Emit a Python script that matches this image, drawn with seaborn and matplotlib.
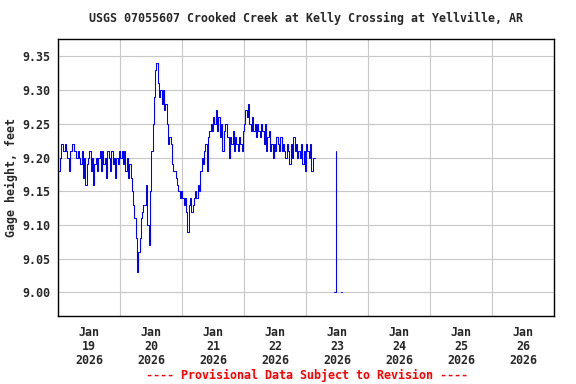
import pandas as pd
import matplotlib
matplotlib.use("Agg")
import matplotlib.pyplot as plt
import matplotlib.dates as mdates
import matplotlib.ticker as mticker
import seaborn as sns

# ================= DATA =================
# gage height (feet), half-hourly from Jan 19 2026 00:00
START = "2026-01-19 00:00"
day19 = [9.18, 9.20, 9.22, 9.22, 9.21, 9.22, 9.21, 9.20, 9.18, 9.21, 9.21, 9.22,
         9.21, 9.21, 9.20, 9.21, 9.20, 9.19, 9.21, 9.17, 9.20, 9.16, 9.19, 9.20,
         9.21, 9.18, 9.20, 9.16, 9.19, 9.20, 9.18, 9.20, 9.21, 9.18, 9.21, 9.19,
         9.20, 9.17, 9.21, 9.20, 9.18, 9.21, 9.19, 9.20, 9.17, 9.20, 9.19, 9.21]
day20 = [9.20, 9.21, 9.19, 9.21, 9.18, 9.20, 9.17, 9.19, 9.17, 9.15, 9.13, 9.11,
         9.08, 9.03, 9.06, 9.08, 9.11, 9.12, 9.13, 9.13, 9.16, 9.10, 9.07, 9.15,
         9.21, 9.25, 9.29, 9.33, 9.34, 9.31, 9.29, 9.30, 9.28, 9.30, 9.27, 9.28,
         9.25, 9.22, 9.23, 9.22, 9.19, 9.18, 9.18, 9.17, 9.16, 9.15, 9.14, 9.15]
day21 = [9.14, 9.13, 9.14, 9.12, 9.09, 9.13, 9.14, 9.12, 9.13, 9.14, 9.15, 9.14,
         9.16, 9.15, 9.18, 9.20, 9.19, 9.21, 9.22, 9.18, 9.23, 9.24, 9.25, 9.24,
         9.26, 9.25, 9.27, 9.24, 9.26, 9.23, 9.25, 9.21, 9.24, 9.25, 9.25, 9.23,
         9.20, 9.23, 9.22, 9.24, 9.21, 9.23, 9.22, 9.21, 9.23, 9.22, 9.21, 9.24]
day22 = [9.25, 9.27, 9.26, 9.28, 9.25, 9.24, 9.26, 9.24, 9.25, 9.23, 9.25, 9.24,
         9.23, 9.25, 9.24, 9.22, 9.25, 9.21, 9.23, 9.24, 9.21, 9.22, 9.20, 9.22,
         9.21, 9.23, 9.22, 9.21, 9.23, 9.21, 9.22, 9.21, 9.20, 9.22, 9.21, 9.19,
         9.22, 9.20, 9.23, 9.21, 9.22, 9.20, 9.21, 9.20, 9.22, 9.19, 9.21, 9.18]
day23 = [9.22, 9.21, 9.20, 9.22, 9.18, 9.20, 9.20, 9.20]

# sensor glitch on Jan 23
glitch_times = ["2026-01-23 10:45", "2026-01-23 11:30", "2026-01-23 11:30"]
glitch_vals = [9.00, 9.00, 9.21]
dot_times = ["2026-01-23 13:30", "2026-01-23 14:00"]
dot_vals = [9.00, 9.00]

TITLE = "USGS 07055607 Crooked Creek at Kelly Crossing at Yellville, AR"
YLABEL = "Gage height, feet"
FOOTER = "---- Provisional Data Subject to Revision ----"

# ================= BUILD FRAMES =================
vals = day19 + day20 + day21 + day22 + day23
df = pd.DataFrame({
    "time": pd.date_range(START, periods=len(vals), freq="30min"),
    "height": vals,
})
glitch = pd.DataFrame({"time": pd.to_datetime(glitch_times), "height": glitch_vals})
dot = pd.DataFrame({"time": pd.to_datetime(dot_times), "height": dot_vals})

# ================= PLOT =================
sns.set_style("white")
plt.rcParams["font.family"] = ["DejaVu Sans Mono"]
plt.rcParams["font.weight"] = "bold"
FS = 8.4

fig = plt.figure(figsize=(5.76, 3.84), dpi=100)
ax = fig.add_axes([0.1012, 0.1771, 0.8606, 0.7206])

for frame, style in [(df, "steps-post"), (glitch, "default"), (dot, "default")]:
    sns.lineplot(data=frame, x="time", y="height", ax=ax, color="blue", lw=0.75,
                 estimator=None, sort=False, drawstyle=style)

ax.set_xlim(pd.Timestamp("2026-01-19"), pd.Timestamp("2026-01-27"))
ax.set_ylim(8.965, 9.3755)

# gridlines at midnight, date labels at noon
ax.xaxis.set_major_locator(mdates.DayLocator())
ax.xaxis.set_major_formatter(mticker.NullFormatter())
ax.xaxis.set_minor_locator(mdates.HourLocator(byhour=[12]))
ax.xaxis.set_minor_formatter(mdates.DateFormatter("%b\n%d\n%Y"))
ax.yaxis.set_major_locator(mticker.MultipleLocator(0.05))
ax.yaxis.set_major_formatter(mticker.FormatStrFormatter("%.2f"))

ax.grid(which="major", axis="both", color="#c8c8c8", lw=0.8)
ax.tick_params(which="both", length=0)
ax.tick_params(axis="y", pad=5.5, labelsize=FS)
ax.tick_params(axis="x", which="minor", pad=7, labelsize=FS)
for lab in ax.get_xticklabels(minor=True):
    lab.set_linespacing(1.1)

for s in ax.spines.values():
    s.set_color("black")
    s.set_linewidth(1.0)

ax.set_xlabel("")
ax.set_ylabel(YLABEL, fontsize=FS, fontweight="bold", labelpad=3)
fig.text(0.532, 0.951, TITLE, ha="center", va="center", fontsize=FS, fontweight="bold")
fig.text(0.533, 0.023, FOOTER, ha="center", va="center", fontsize=FS,
         fontweight="bold", color="red")

fig.savefig("out.png", dpi=100)
